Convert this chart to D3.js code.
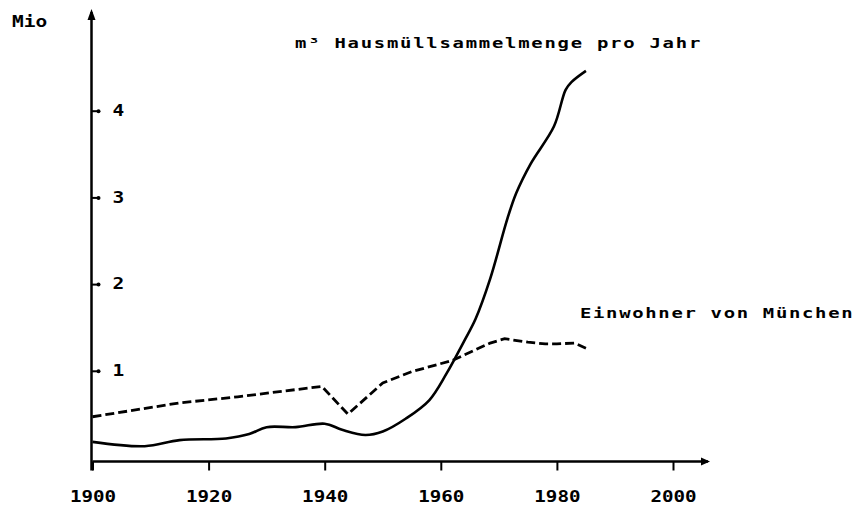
<!DOCTYPE html>
<html>
<head>
<meta charset="utf-8">
<script src="https://cdn.jsdelivr.net/npm/d3@7"></script>
<style>
  body { margin: 0; background: #fff; }
  text { font-family: "DejaVu Sans Mono", monospace; font-weight: bold; fill: #000; }
</style>
</head>
<body>
<div id="chart"></div>
<script>
const width = 860;
const height = 509;

// Hausmüllsammelmenge (Mio m³ pro Jahr)
const wasteYears = [1900, 1909, 1915, 1923, 1927, 1930, 1935, 1940, 1943, 1947, 1950, 1954, 1958, 1961, 1964, 1966, 1968.5, 1971.5, 1973, 1975.5, 1979.5, 1981.5, 1982.5, 1985];
const wasteValues = [0.18, 0.13, 0.2, 0.22, 0.27, 0.35, 0.35, 0.39, 0.32, 0.26, 0.3, 0.45, 0.66, 0.97, 1.34, 1.6, 2.06, 2.76, 3.05, 3.39, 3.82, 4.24, 4.33, 4.46];

// Einwohner von München (Mio)
const popYears = [1900, 1915, 1925, 1939.5, 1944, 1950, 1955, 1962, 1968.5, 1971, 1975, 1978, 1980, 1983, 1985];
const popValues = [0.47, 0.63, 0.7, 0.82, 0.5, 0.86, 0.99, 1.12, 1.32, 1.37, 1.33, 1.31, 1.31, 1.32, 1.26];

const xTicks = [1900, 1920, 1940, 1960, 1980, 2000];
const yTicks = [1, 2, 3, 4];

const x = d3.scaleLinear().domain([1900, 2000]).range([92.5, 673]);
const y = d3.scaleLinear().domain([0, 4]).range([457.5, 110.7]);

const svg = d3.select('#chart').append('svg')
  .attr('width', width)
  .attr('height', height);

const axisY = y(0) + 4; // x axis sits a little below zero

// x axis
const xAxis = svg.append('g')
  .attr('transform', `translate(0,${axisY})`)
  .call(d3.axisBottom(x).tickValues(xTicks).tickSize(9).tickPadding(20).tickFormat(d3.format('d')));
xAxis.select('.domain').remove();
xAxis.selectAll('.tick line').attr('stroke', '#000').attr('stroke-width', 2);
xAxis.selectAll('.tick text')
  .attr('transform', 'scale(1.2,1)')
  .style('font-size', '16px');

svg.append('line')
  .attr('x1', x(1900)).attr('x2', 708)
  .attr('y1', axisY).attr('y2', axisY)
  .attr('stroke', '#000').attr('stroke-width', 2.5);
svg.append('path')
  .attr('d', `M710,${axisY} l-9,-4 l0,8 z`)
  .attr('fill', '#000');

// y axis
const yAxis = svg.append('g')
  .attr('transform', `translate(${x(1900) - 1},0)`)
  .call(d3.axisRight(y).tickValues(yTicks).tickSize(7).tickFormat(d3.format('d')));
yAxis.select('.domain').remove();
yAxis.selectAll('.tick line').attr('stroke', '#000').attr('stroke-width', 2);
yAxis.selectAll('.tick').append('circle')
  .attr('cx', 7).attr('r', 2).attr('fill', '#000');
yAxis.selectAll('.tick text')
  .attr('x', 0)
  .attr('transform', 'translate(21,0) scale(1.3,1)')
  .style('font-size', '15px');

svg.append('line')
  .attr('x1', x(1900) - 1).attr('x2', x(1900) - 1)
  .attr('y1', 12).attr('y2', axisY + 9)
  .attr('stroke', '#000').attr('stroke-width', 2.5);
svg.append('path')
  .attr('d', `M${x(1900) - 1},9 l-4,11 l8,0 z`)
  .attr('fill', '#000');

svg.append('text')
  .attr('transform', 'translate(12,27) scale(1.3,1)')
  .style('font-size', '15px')
  .text('Mio');

// lines
const wasteData = wasteYears.map((yr, i) => ({yr, v: wasteValues[i]}));
const popData = popYears.map((yr, i) => ({yr, v: popValues[i]}));

svg.append('path')
  .datum(wasteData)
  .attr('d', d3.line().x(d => x(d.yr)).y(d => y(d.v)).curve(d3.curveCatmullRom.alpha(0.5)))
  .attr('fill', 'none')
  .attr('stroke', '#000')
  .attr('stroke-width', 2.6);

svg.append('path')
  .datum(popData)
  .attr('d', d3.line().x(d => x(d.yr)).y(d => y(d.v)))
  .attr('fill', 'none')
  .attr('stroke', '#000')
  .attr('stroke-width', 2.8)
  .attr('stroke-dasharray', '9,4');

// labels
svg.append('text')
  .attr('transform', 'translate(295,48) scale(1.35,1)')
  .style('font-size', '14px')
  .style('letter-spacing', '1.3px')
  .text('m³ Hausmüllsammelmenge pro Jahr');

svg.append('text')
  .attr('transform', 'translate(580,318) scale(1.35,1)')
  .style('font-size', '14px')
  .style('letter-spacing', '1.25px')
  .text('Einwohner von München');
</script>
</body>
</html>
